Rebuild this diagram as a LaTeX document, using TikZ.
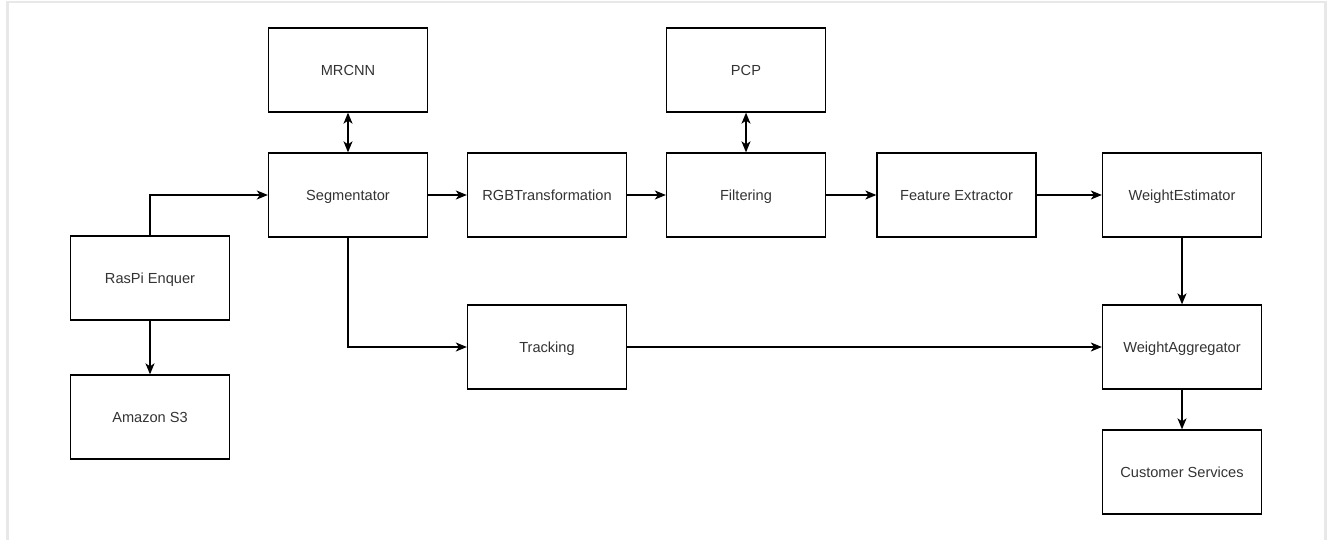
\documentclass[tikz,border=0pt]{standalone}
\usepackage{fontspec}
\setmainfont{Liberation Sans}
\usetikzlibrary{arrows.meta}
\definecolor{txt}{HTML}{333333}
\definecolor{frame}{HTML}{E8E8E8}
\begin{document}
\begin{tikzpicture}[x=1pt,y=-1pt,
  blk/.style={draw=black, line width=1.3pt, minimum width=159pt, minimum height=84pt, inner sep=0pt, text height=11pt, text depth=0.5pt, text=txt, font=\fontsize{14.6}{17}\selectfont},
  conn/.style={draw=black, line width=1.3pt, -{Stealth[length=11pt,width=9pt,inset=3pt]}},
  biconn/.style={draw=black, line width=1.3pt, {Stealth[length=11pt,width=9pt,inset=3pt]}-{Stealth[length=11pt,width=9pt,inset=3pt]}}]
\useasboundingbox (0,0) rectangle (1333,540);
\draw[frame, line width=2.5pt] (7.5,540) -- (7.5,2) -- (1325.5,2) -- (1325.5,540);
% nodes (centers)
\node[blk] (mrcnn) at (348,70) {MRCNN};
\node[blk] (seg) at (348,195) {Segmentator};
\node[blk] (rgb) at (547,195) {RGBTransformation};
\node[blk] (pcp) at (746,70) {PCP};
\node[blk] (filt) at (746,195) {Filtering};
\node[blk] (feat) at (956.5,195) {Feature Extractor};
\node[blk] (west) at (1182,195) {WeightEstimator};
\node[blk] (ras) at (150,278) {RasPi Enquer};
\node[blk] (s3) at (150,417) {Amazon S3};
\node[blk] (track) at (547,347) {Tracking};
\node[blk] (wagg) at (1182,347) {WeightAggregator};
\node[blk] (cust) at (1182,472) {Customer Services};
% connectors
\draw[conn] (ras.north) |- (seg.west);
\draw[conn] (ras) -- (s3);
\draw[biconn] (mrcnn) -- (seg);
\draw[conn] (seg) -- (rgb);
\draw[conn] (rgb) -- (filt);
\draw[biconn] (pcp) -- (filt);
\draw[conn] (filt) -- (feat);
\draw[conn] (feat) -- (west);
\draw[conn] (west) -- (wagg);
\draw[conn] (seg.south) |- (track.west);
\draw[conn] (track) -- (wagg);
\draw[conn] (wagg) -- (cust);
\end{tikzpicture}
\end{document}
